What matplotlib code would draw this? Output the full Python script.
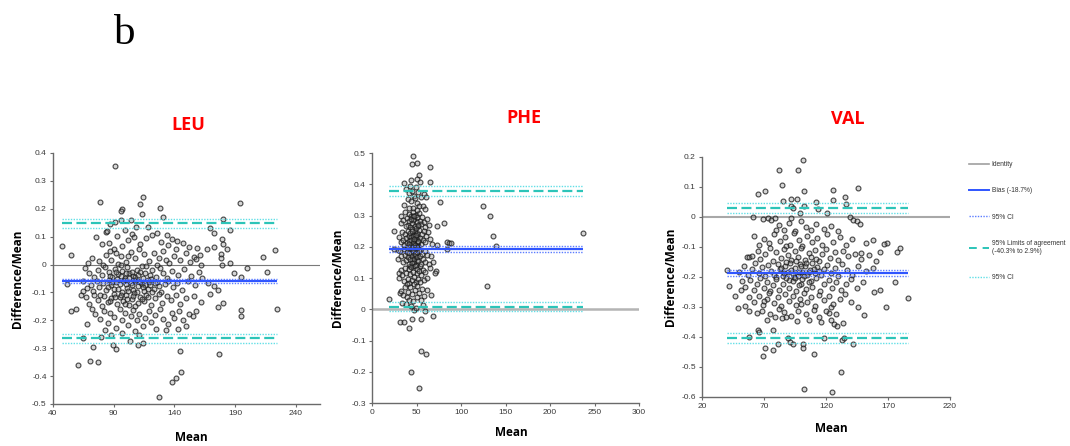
import matplotlib
matplotlib.use("Agg")
import matplotlib.pyplot as plt
from matplotlib.lines import Line2D

# Bland-Altman style points: (mean, difference/mean)
leu_points = [
    (91, 0.355), (79, 0.226), (114, 0.242), (128.5, 0.204), (131, 0.172), (96.7, 0.200), (96, 0.192),
    (111.5, 0.218), (194.5, 0.219), (180, 0.164), (47.4, 0.067), (55, 0.035), (51.5, -0.068), (55, -0.166),
    (59, -0.158), (61, -0.362), (70.7, -0.345), (77.5, -0.350), (72.6, -0.296), (64.7, -0.262), (79.7, -0.260),
    (92, -0.302), (89.3, -0.288), (127.7, -0.474), (137.8, -0.420), (141.6, -0.406), (145.5, -0.386),
    (144.4, -0.310), (176.7, -0.320), (194.8, -0.164), (194.8, -0.186), (224.4, -0.158), (222.7, 0.053),
    (213.4, 0.028), (216.7, -0.028), (200, -0.012), (194.8, -0.044), (189.3, -0.032), (186, 0.006),
    (183.8, 0.054), (180, 0.072), (179, 0.093), (185.5, 0.124), (172.3, 0.114), (169, 0.130), (172.9, 0.064),
    (167, 0.055), (178.4, 0.037), (178.4, 0.022), (179, 0.000), (176, -0.154), (180.5, -0.138), (176, -0.090),
    (169.6, -0.104), (173, -0.078), (167.5, -0.066), (161.4, 0.034), (159, 0.058), (162, -0.002), (155, -0.186),
    (149.6, -0.220), (142.7, -0.232), (133, -0.234), (125, -0.231), (114, -0.280), (110, -0.288), (111, -0.252),
    (103.6, -0.274), (88, -0.254), (68, -0.214), (63.3, -0.110), (64.7, -0.096),
    # upper part of the cloud
    (83.6, 0.117), (84.4, 0.121), (75.3, 0.099), (108.2, 0.133), (105.5, 0.111), (107, 0.099), (122, 0.105),
    (87.1, 0.147), (91.2, 0.151), (95.9, 0.159), (104.1, 0.161), (113.7, 0.180), (118, 0.135), (126, 0.112),
    (134, 0.105), (138, 0.092), (142, 0.085), (99, 0.125), (93, 0.102), (86, 0.078), (80, 0.072), (102, 0.088),
    (112, 0.075), (117, 0.095), (129, 0.082), (135, 0.070), (147, 0.078), (152, 0.062), (97, 0.065), (90, 0.055),
    (72, 0.025), (78, 0.012), (84, 0.035), (88, 0.018), (92, 0.042), (96, 0.030), (100, 0.008), (104, 0.045),
    (108, 0.022), (111, 0.055), (115, 0.038), (119, 0.012), (123, 0.040), (127, 0.025), (131, 0.048),
    (136, 0.005), (140, 0.030), (145, 0.015), (150, 0.042), (156, 0.028), (69, 0.005), (81, -0.002),
    (94, 0.002), (113, -0.004), (133, 0.018), (141, 0.055), (153, 0.008), (158, 0.020), (87, 0.048), (102, 0.032),
    # middle of the cloud
    (66, -0.012), (70, -0.030), (74, -0.045), (77, -0.020), (80, -0.038), (83, -0.008), (86, -0.028),
    (89, -0.046), (91, -0.015), (94, -0.035), (97, -0.022), (99, -0.048), (101, -0.010), (103, -0.032),
    (106, -0.041), (109, -0.018), (112, -0.027), (114, -0.048), (117, -0.006), (120, -0.036), (122, -0.020),
    (125, -0.044), (128, -0.012), (131, -0.030), (134, -0.047), (138, -0.022), (143, -0.038), (148, -0.015),
    (154, -0.042), (160, -0.025), (163, -0.048), (96, -0.002), (108, -0.045), (126, -0.003),
    (65, -0.060), (68, -0.085), (71, -0.072), (73, -0.095), (76, -0.058), (78, -0.080), (81, -0.067),
    (84, -0.092), (86, -0.055), (88, -0.075), (90, -0.088), (92, -0.062), (95, -0.070), (97, -0.098),
    (99, -0.057), (101, -0.083), (104, -0.065), (106, -0.090), (108, -0.060), (110, -0.078), (113, -0.068),
    (115, -0.095), (118, -0.055), (120, -0.072), (123, -0.086), (126, -0.063), (129, -0.097), (132, -0.070),
    (135, -0.058), (139, -0.082), (142, -0.066), (146, -0.092), (151, -0.060), (157, -0.075), (100, -0.070),
    (111, -0.058), (119, -0.062),
    (93, -0.052), (98, -0.060), (103, -0.050), (105, -0.072), (107, -0.055), (112, -0.062), (116, -0.075),
    (121, -0.052), (124, -0.066), (127, -0.078), (89, -0.064), (85, -0.082), (94, -0.086), (102, -0.094),
    (109, -0.100), (114, -0.082), (118, -0.088), (122, -0.100), (96, -0.040), (105, -0.025), (110, -0.036),
    (116, -0.030), (100, -0.030), (92, -0.026), (87, -0.040),
    # lower part of the cloud
    (67, -0.115), (70, -0.140), (74, -0.108), (77, -0.128), (80, -0.148), (82, -0.112), (85, -0.135),
    (88, -0.120), (90, -0.104), (93, -0.142), (95, -0.118), (98, -0.130), (100, -0.110), (103, -0.146),
    (105, -0.125), (107, -0.103), (110, -0.138), (112, -0.116), (115, -0.132), (117, -0.108), (121, -0.145),
    (124, -0.120), (127, -0.105), (130, -0.137), (134, -0.114), (137, -0.128), (141, -0.110), (145, -0.142),
    (150, -0.120), (156, -0.112), (162, -0.135),
    (91, -0.118), (96, -0.108), (101, -0.122), (106, -0.112), (108, -0.150), (113, -0.124), (118, -0.116),
    (99, -0.140), (87, -0.130), (79, -0.110),
    (72, -0.160), (75, -0.178), (79, -0.195), (82, -0.165), (85, -0.210), (87, -0.175), (90, -0.188),
    (92, -0.228), (95, -0.160), (97, -0.200), (99, -0.172), (102, -0.215), (104, -0.185), (106, -0.163),
    (109, -0.198), (111, -0.176), (114, -0.222), (116, -0.190), (119, -0.168), (121, -0.205), (124, -0.182),
    (128, -0.160), (131, -0.195), (135, -0.212), (138, -0.175), (140, -0.190), (144, -0.165), (147, -0.200),
    (152, -0.178), (158, -0.168), (108, -0.240), (97, -0.245), (83, -0.235),
]

phe_points = [
    (46.3, 0.489), (44.5, 0.466), (51, 0.468), (64.6, 0.454), (52.3, 0.431), (50.8, 0.417), (53.4, 0.408),
    (64.6, 0.406), (35.5, 0.404), (44, 0.413), (124.4, 0.331), (132.2, 0.300), (136, 0.233), (139, 0.203),
    (129.6, 0.074), (237.2, 0.244), (76.6, 0.343), (80.7, 0.276), (72.8, 0.267), (84, 0.214), (86.7, 0.212),
    (88.5, 0.212), (84.4, 0.193), (25, 0.251), (19.4, 0.034), (24.3, 0.194), (31.4, -0.042), (35.9, -0.041),
    (41.5, -0.061), (45.2, -0.030), (54.9, -0.030), (47, -0.003), (59, -0.006), (68.4, -0.020), (54.9, -0.135),
    (60.1, -0.142), (43.3, -0.200), (52.3, -0.251), (66.5, 0.047), (61.6, 0.063), (72, 0.124), (71.3, 0.116),
    (69, 0.150), (66.5, 0.169), (72.8, 0.207), (31, 0.052), (33.6, 0.020), (30, 0.115), (29, 0.190), (33, 0.275),
    (38, 0.385), (41, 0.372), (43, 0.395), (45, 0.380), (47, 0.362), (49, 0.390), (52, 0.375), (55, 0.358),
    (58, 0.368), (61, 0.360), (40, 0.352), (44, 0.345), (50, 0.340), (53, 0.332), (46, 0.325), (57, 0.330),
    (36, 0.335), (42, 0.325), (60, 0.322), (48, 0.355),
    (33, 0.300), (35, 0.285), (37, 0.310), (39, 0.292), (40, 0.270), (41, 0.305), (42, 0.282), (43, 0.262),
    (44, 0.298), (45, 0.276), (46, 0.312), (47, 0.288), (48, 0.268), (49, 0.302), (50, 0.280), (51, 0.294),
    (52, 0.265), (53, 0.308), (54, 0.284), (55, 0.272), (56, 0.296), (58, 0.278), (59, 0.262), (62, 0.290),
    (64, 0.270), (38, 0.265), (46, 0.300), (50, 0.318),
    (30, 0.232), (32, 0.215), (34, 0.248), (35, 0.222), (36, 0.205), (37, 0.240), (38, 0.228), (39, 0.212),
    (40, 0.252), (41, 0.236), (42, 0.218), (43, 0.245), (44, 0.204), (44, 0.230), (45, 0.258), (46, 0.220),
    (47, 0.240), (47, 0.208), (48, 0.250), (49, 0.226), (50, 0.212), (50, 0.244), (51, 0.232), (52, 0.216),
    (53, 0.255), (54, 0.228), (55, 0.208), (56, 0.240), (57, 0.222), (58, 0.250), (60, 0.214), (61, 0.236),
    (63, 0.248), (65, 0.225), (67, 0.210), (42, 0.200), (48, 0.236), (52, 0.202),
    (43.5, 0.222), (45.5, 0.235), (46.5, 0.212), (48.5, 0.205), (49.5, 0.238), (51.5, 0.220), (44.5, 0.250),
    (47.5, 0.226), (50.5, 0.196), (45.5, 0.190), (43.5, 0.180), (48.5, 0.172), (52.5, 0.185), (41.5, 0.210),
    (47.5, 0.150), (44.5, 0.162), (50.5, 0.158), (46.5, 0.140), (42.5, 0.138), (53.5, 0.140), (49.5, 0.260),
    (45.5, 0.285), (51.5, 0.270), (43.5, 0.290), (47.5, 0.300),
    (29, 0.160), (31, 0.185), (33, 0.170), (35, 0.150), (36, 0.192), (37, 0.175), (38, 0.158), (39, 0.184),
    (40, 0.166), (41, 0.145), (42, 0.180), (43, 0.162), (44, 0.195), (45, 0.172), (45, 0.148), (46, 0.186),
    (47, 0.160), (48, 0.178), (49, 0.142), (49, 0.194), (50, 0.168), (51, 0.182), (52, 0.155), (53, 0.190),
    (54, 0.170), (55, 0.145), (56, 0.178), (57, 0.160), (59, 0.188), (60, 0.152), (62, 0.174), (64, 0.146),
    (40, 0.198), (46, 0.200), (51, 0.198),
    (30, 0.100), (32, 0.125), (34, 0.110), (36, 0.090), (37, 0.132), (38, 0.115), (40, 0.098), (41, 0.128),
    (42, 0.085), (43, 0.112), (44, 0.136), (45, 0.095), (46, 0.120), (47, 0.104), (48, 0.138), (49, 0.088),
    (50, 0.116), (51, 0.130), (52, 0.098), (53, 0.122), (54, 0.086), (55, 0.110), (57, 0.126), (58, 0.094),
    (60, 0.118), (62, 0.100), (65, 0.132), (39, 0.082), (47, 0.082),
    (33, 0.060), (35, 0.045), (37, 0.070), (39, 0.038), (40, 0.055), (42, 0.030), (43, 0.072), (45, 0.048),
    (46, 0.025), (48, 0.062), (50, 0.040), (51, 0.075), (53, 0.052), (55, 0.030), (56, 0.066), (58, 0.042),
    (44, 0.010), (49, 0.005), (57, 0.015), (38, 0.018),
]

val_points = [
    (101.6, 0.191), (82, 0.155), (97, 0.155), (84.5, 0.105), (65.5, 0.078), (71, 0.086), (102.4, 0.087),
    (126, 0.091), (146, 0.097), (135.2, 0.067), (85.3, 0.054), (91.5, 0.061), (96.7, 0.059), (111.9, 0.050),
    (126, 0.056), (136.3, 0.042), (102.6, 0.037), (91.5, 0.036), (93.5, 0.030), (113.8, 0.026), (120.8, 0.012),
    (98.9, 0.012), (61.5, 0.000), (139.5, 0.000), (142, -0.010), (145, -0.013), (147, -0.024), (180, -0.104),
    (177, -0.116), (169, -0.086), (166.6, -0.090), (158.2, -0.077), (163.4, -0.116), (148.5, -0.121),
    (186, -0.269), (175.3, -0.216), (168, -0.299), (163.6, -0.243), (158.5, -0.250), (150.4, -0.326),
    (146, -0.299), (40, -0.176), (41.7, -0.230), (48.7, -0.304), (58, -0.400), (65, -0.376), (65.8, -0.384),
    (76.9, -0.378), (69, -0.463), (71, -0.437), (76.9, -0.445), (81, -0.424), (89, -0.402), (90.7, -0.418),
    (93.4, -0.423), (101.8, -0.424), (101.8, -0.437), (110, -0.456), (102.4, -0.573), (124.6, -0.584),
    (132, -0.518), (118.4, -0.404), (132.5, -0.410), (134.4, -0.403), (142, -0.424), (133.3, -0.352),
    (126.5, -0.356), (129.2, -0.363), (123.8, -0.343), (122, -0.321), (116.2, -0.350), (123.8, -0.299),
    (106.2, -0.343), (96.2, -0.346), (88, -0.334), (84.5, -0.337), (79, -0.332), (64.2, -0.319),
    (58.2, -0.315), (55, -0.296), (51.2, -0.245), (46.8, -0.263),
    (69, -0.008), (73, -0.004), (76, -0.010), (79, -0.003), (82, -0.028), (86, -0.042), (90, -0.020),
    (95, -0.048), (100, -0.015), (104, -0.035), (108, -0.045), (112, -0.022), (118, -0.040), (124, -0.030),
    (130, -0.048), (80, -0.045), (92, -0.005),
    (62, -0.065), (66, -0.095), (70, -0.072), (74, -0.088), (78, -0.058), (83, -0.080), (87, -0.066),
    (91, -0.092), (94, -0.055), (98, -0.078), (101, -0.098), (105, -0.062), (109, -0.085), (113, -0.070),
    (117, -0.092), (121, -0.058), (126, -0.082), (131, -0.068), (136, -0.095), (141, -0.075), (152, -0.088),
    (88, -0.096),
    (56, -0.132), (58, -0.132), (60, -0.130), (65, -0.112), (67, -0.140), (71, -0.125), (75, -0.105),
    (77, -0.148), (80, -0.118), (84, -0.136), (86, -0.108), (89, -0.128), (92, -0.145), (95, -0.115),
    (97, -0.132), (100, -0.104), (103, -0.142), (106, -0.120), (108, -0.135), (111, -0.110), (114, -0.146),
    (117, -0.125), (120, -0.106), (123, -0.138), (127, -0.118), (130, -0.144), (134, -0.112), (138, -0.130),
    (143, -0.122), (148, -0.140), (155, -0.126), (160, -0.148),
    (50, -0.185), (54, -0.165), (57, -0.195), (60, -0.175), (63, -0.155), (66, -0.188), (68, -0.168),
    (71, -0.198), (73, -0.160), (76, -0.180), (78, -0.192), (81, -0.158), (83, -0.175), (85, -0.196),
    (87, -0.165), (89, -0.184), (91, -0.152), (93, -0.190), (95, -0.170), (97, -0.198), (99, -0.158),
    (101, -0.182), (103, -0.165), (105, -0.195), (107, -0.176), (109, -0.155), (111, -0.188), (113, -0.168),
    (116, -0.194), (118, -0.172), (121, -0.160), (124, -0.186), (127, -0.170), (130, -0.198), (133, -0.156),
    (137, -0.178), (141, -0.192), (146, -0.165), (152, -0.180), (158, -0.170), (92, -0.178), (100, -0.162),
    (86, -0.186), (94, -0.200), (98, -0.185), (102, -0.196), (106, -0.184), (110, -0.172), (114, -0.180),
    (88, -0.150), (96, -0.146), (104, -0.154), (112, -0.140), (90, -0.210), (100, -0.224), (108, -0.212),
    (84, -0.170), (80, -0.200),
    (52, -0.215), (55, -0.235), (59, -0.210), (62, -0.245), (64, -0.222), (67, -0.205), (70, -0.238),
    (72, -0.218), (75, -0.248), (77, -0.228), (80, -0.208), (82, -0.242), (85, -0.222), (88, -0.205),
    (90, -0.236), (93, -0.215), (96, -0.248), (98, -0.226), (101, -0.208), (104, -0.240), (106, -0.218),
    (109, -0.232), (112, -0.205), (115, -0.246), (118, -0.222), (122, -0.210), (125, -0.238), (128, -0.216),
    (132, -0.245), (136, -0.225), (140, -0.208), (145, -0.238), (150, -0.218), (95, -0.205),
    (58, -0.268), (62, -0.285), (66, -0.262), (69, -0.292), (72, -0.275), (74, -0.255), (78, -0.288),
    (81, -0.268), (84, -0.298), (87, -0.258), (90, -0.280), (93, -0.265), (96, -0.295), (99, -0.272),
    (102, -0.255), (105, -0.285), (108, -0.268), (111, -0.296), (114, -0.260), (118, -0.278), (122, -0.265),
    (126, -0.290), (131, -0.272), (135, -0.258), (140, -0.282), (70, -0.280), (100, -0.290),
    (68, -0.312), (75, -0.325), (82, -0.308), (86, -0.318), (92, -0.330), (97, -0.312), (104, -0.322),
    (110, -0.310), (114, -0.335), (120, -0.315), (128, -0.325), (72, -0.342),
]

names = ["LEU", "PHE", "VAL"]
# bias, CI half-width of bias, lower / upper limits of agreement, CI half-width of limits
bias = [-0.060, 0.192, -0.187]
bias_ci = [0.007, 0.010, 0.010]
loa_low = [-0.265, 0.008, -0.403]
loa_high = [0.148, 0.378, 0.029]
loa_ci = [0.016, 0.015, 0.017]

xlims = [(40, 260), (0, 300), (20, 220)]
xticks = [[40, 90, 140, 190, 240], [0, 50, 100, 150, 200, 250, 300], [20, 70, 120, 170, 220]]
ylims = [(-0.5, 0.4), (-0.3, 0.5), (-0.6, 0.2)]
yticks = [[-0.5, -0.4, -0.3, -0.2, -0.1, 0, 0.1, 0.2, 0.3, 0.4],
          [-0.3, -0.2, -0.1, 0, 0.1, 0.2, 0.3, 0.4, 0.5],
          [-0.6, -0.5, -0.4, -0.3, -0.2, -0.1, 0, 0.1, 0.2]]
zero_style = [("#7a7a7a", 0.8), ("#b4b4b4", 1.8), ("#a8a8a8", 1.5)]

# axes rectangles in figure fractions
rects = [[0.0495, 0.0942, 0.2495, 0.5628],
         [0.3477, 0.0964, 0.2495, 0.5605],
         [0.6561, 0.1099, 0.2318, 0.5381]]
title_pos = [(0.176, 0.720), (0.490, 0.735), (0.792, 0.733)]
ylabel_x = [0.016, 0.315, 0.627]
xlabel_y = [0.018, 0.031, 0.040]

BLUE = "#2f55ff"
BLUE_CI = "#5b7cff"
TEAL = "#2cc4b8"
CYAN_CI = "#62dfe6"

fig = plt.figure(figsize=(10.7, 4.46), dpi=100)
fig.text(0.117, 0.925, "b", fontsize=31, family="Liberation Serif", ha="center", va="center")

for i in range(3):
    pts = [leu_points, phe_points, val_points][i]
    xs = [p[0] for p in pts]
    ys = [p[1] for p in pts]
    ax = fig.add_axes(rects[i])
    x0, x1 = min(xs), max(xs)

    ax.axhline(0, color=zero_style[i][0], lw=zero_style[i][1], zorder=1)
    ax.plot(xs, ys, "o", ms=3.5, mfc=(0.55, 0.55, 0.55, 0.35), mec=(0.1, 0.1, 0.1, 0.8), mew=0.8,
            zorder=3, linestyle="none")

    ax.hlines(bias[i], x0, x1, color=BLUE, lw=1.6, zorder=4)
    for s in (-1, 1):
        ax.hlines(bias[i] + s * bias_ci[i], x0, x1, color=BLUE_CI, lw=1.0, linestyles=(0, (1, 1)), zorder=4)
    for lim in (loa_low[i], loa_high[i]):
        ax.hlines(lim, x0, x1, color=TEAL, lw=1.6, linestyles=(0, (4.5, 2)), zorder=4)
        for s in (-1, 1):
            ax.hlines(lim + s * loa_ci[i], x0, x1, color=CYAN_CI, lw=1.0, linestyles=(0, (1, 1)), zorder=4)

    ax.set_xlim(*xlims[i])
    ax.set_ylim(*ylims[i])
    ax.set_xticks(xticks[i])
    ax.set_yticks(yticks[i])
    ax.set_yticklabels(["0" if v == 0 else f"{v:g}" for v in yticks[i]])
    for side in ("top", "right"):
        ax.spines[side].set_visible(False)
    for side in ("left", "bottom"):
        ax.spines[side].set_color("#6a6a6a")
        ax.spines[side].set_linewidth(1.0)
    ax.tick_params(direction="out", length=2.5, width=0.8, color="#6a6a6a", labelsize=6,
                   labelcolor="#3a3a3a", pad=2)
    for lab in ax.get_xticklabels() + ax.get_yticklabels():
        lab.set_family("Liberation Sans")

    fig.text(title_pos[i][0], title_pos[i][1], names[i], color="#ff0000", fontsize=13,
             fontweight="bold", family="Open Sans", ha="center", va="center")
    fig.text(ylabel_x[i], rects[i][1] + rects[i][3] / 2, "Difference/Mean", rotation=90,
             fontsize=8.5, fontweight="bold", family="Open Sans", ha="center", va="center")
    fig.text(rects[i][0] + rects[i][2] * 0.52, xlabel_y[i], "Mean", fontsize=8.5,
             fontweight="bold", family="Open Sans", ha="center", va="center")

handles = [
    Line2D([], [], color="#a0a0a0", lw=1.2),
    Line2D([], [], color=BLUE, lw=1.4),
    Line2D([], [], color=BLUE_CI, lw=1.0, ls=(0, (1, 1))),
    Line2D([], [], color=TEAL, lw=1.4, ls=(0, (4, 3))),
    Line2D([], [], color=CYAN_CI, lw=1.0, ls=(0, (1, 1))),
]
labels = ["Identity", "Bias (-18.7%)", "95% CI",
          "95% Limits of agreement\n(-40.3% to 2.9%)", "95% CI"]
fig.legend(handles, labels, loc="upper left", bbox_to_anchor=(0.903, 0.645), frameon=False,
           prop={"family": "Liberation Sans", "size": 4.8}, labelcolor="#333333",
           handlelength=3.0, handletextpad=0.4, labelspacing=2.9, borderaxespad=0)

fig.savefig("out.png", dpi=100)
